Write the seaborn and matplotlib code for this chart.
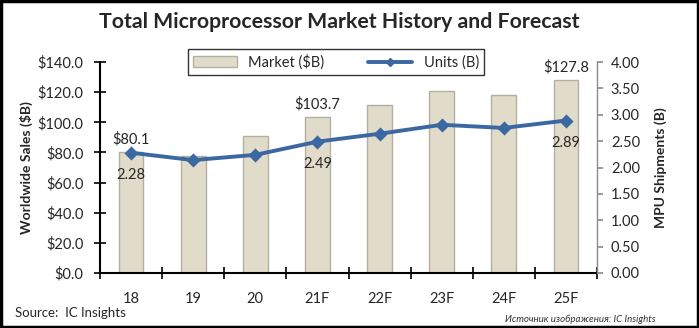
import matplotlib
matplotlib.use("Agg")
import matplotlib.pyplot as plt
import seaborn as sns
import pandas as pd
from matplotlib.patches import Patch, Rectangle
from matplotlib.lines import Line2D

years = ["18", "19", "20", "21F", "22F", "23F", "24F", "25F"]
market = [80.1, 77.9, 90.8, 103.7, 111.5, 121.0, 118.2, 127.8]
units = [2.28, 2.14, 2.24, 2.49, 2.64, 2.81, 2.75, 2.89]
market_labels = {0: "$80.1", 3: "$103.7", 7: "$127.8"}
unit_labels = {0: "2.28", 3: "2.49", 7: "2.89"}
left_ticks = [0, 20, 40, 60, 80, 100, 120, 140]
right_ticks = [0, 0.5, 1.0, 1.5, 2.0, 2.5, 3.0, 3.5, 4.0]

sns.set_theme(style="white")
plt.rcParams['font.family'] = ['Lato', 'DejaVu Sans']

df = pd.DataFrame({"year": years, "market": market, "units": units})

fig = plt.figure(figsize=(6.99, 3.28), dpi=100)
ax = fig.add_axes([100/699, 1-273/328, (597-100)/699, (273-62)/328])

bar_color = "#E0DCC9"
bar_edge = "#B3B0A3"
line_color = "#3B68A3"

sns.barplot(data=df, x="year", y="market", color=bar_color, width=0.4,
            edgecolor=bar_edge, linewidth=1.0, saturation=1, ax=ax)
ax.set_ylim(0, 140)
ax.set_yticks(left_ticks)
ax.set_yticklabels([f"${v:.1f}" for v in left_ticks], fontsize=10.5)
ax.set_xlim(-0.5, len(years)-0.5)
ax.set_xlabel("")
ax.set_ylabel("Worldwide Sales ($B)", fontsize=10, fontweight="bold", labelpad=3)
ax.tick_params(axis="x", length=0, labelsize=10.5, pad=14)
ax.tick_params(axis="y", direction="inout", length=8, width=1.2, color="black", labelsize=10.5, pad=8, left=True)
ax.set_xticks(range(len(years)))
ax.set_xticklabels(years)
ax.set_xticks([i + 0.5 for i in range(-1, len(years))], minor=True)
ax.tick_params(axis="x", which="minor", direction="inout", length=8, width=1.2, color="black", bottom=True)
for s in ["top", "right"]:
    ax.spines[s].set_visible(False)
ax.spines["left"].set_color("black")
ax.spines["left"].set_linewidth(1.5)
ax.spines["bottom"].set_color("black")
ax.spines["bottom"].set_linewidth(1.5)

for i, lab in market_labels.items():
    ax.text(i, market[i] + 8.5, lab, ha="center", va="center", fontsize=10.5)

ax2 = ax.twinx()
sns.pointplot(data=df, x="year", y="units", color=line_color, markers="D",
              linestyles="-", ax=ax2, markersize=5.5, linewidth=2.8)
ax2.set_ylim(0, 4)
ax2.set_xlim(-0.5, len(years)-0.5)
ax2.set_yticks(right_ticks)
ax2.set_yticklabels([f"{v:.2f}" for v in right_ticks], fontsize=10.5)
ax2.set_ylabel("MPU Shipments (B)", fontsize=10, fontweight="bold", labelpad=10)
ax2.set_xlabel("")
for s in ["top", "left", "bottom"]:
    ax2.spines[s].set_visible(False)
ax2.spines["right"].set_color("#8C8C8C")
ax2.spines["right"].set_linewidth(1.0)
ax2.tick_params(axis="y", direction="out", length=4, color="#8C8C8C", right=True, labelsize=10.5, pad=6)

for i, lab in unit_labels.items():
    ax2.text(i, units[i] - 0.42, lab, ha="center", va="center", fontsize=10.5)

handles = [Patch(facecolor=bar_color, edgecolor=bar_edge),
           Line2D([0], [0], color=line_color, lw=2.8, marker="D", markersize=4)]
leg = fig.legend(handles, ["Market ($B)", "Units (B)"], ncol=2,
                 loc="center", bbox_to_anchor=(336/699, 1-62/328),
                 frameon=True, fontsize=10.5, handlelength=3.0, columnspacing=3.0,
                 borderpad=0.35, fancybox=False)
leg.get_frame().set_edgecolor("black")
leg.get_frame().set_linewidth(1.0)

fig.text(339/699, 1-22/328, "Total Microprocessor Market History and Forecast",
         ha="center", va="center", fontsize=15.3, fontweight="bold")
fig.text(15/699, 1-313/328, "Source:  IC Insights", ha="left", va="center", fontsize=9.5)
fig.text(580/699, 1-319/328, "Источник изображения: IC Insights", ha="center", va="center",
         fontsize=7, style="italic", color="#333333")

fig.patches.append(Rectangle((0.001, 0.002), 0.997, 0.995, transform=fig.transFigure,
                             fill=False, edgecolor="black", linewidth=2.5))

fig.savefig("out.png", dpi=100)
